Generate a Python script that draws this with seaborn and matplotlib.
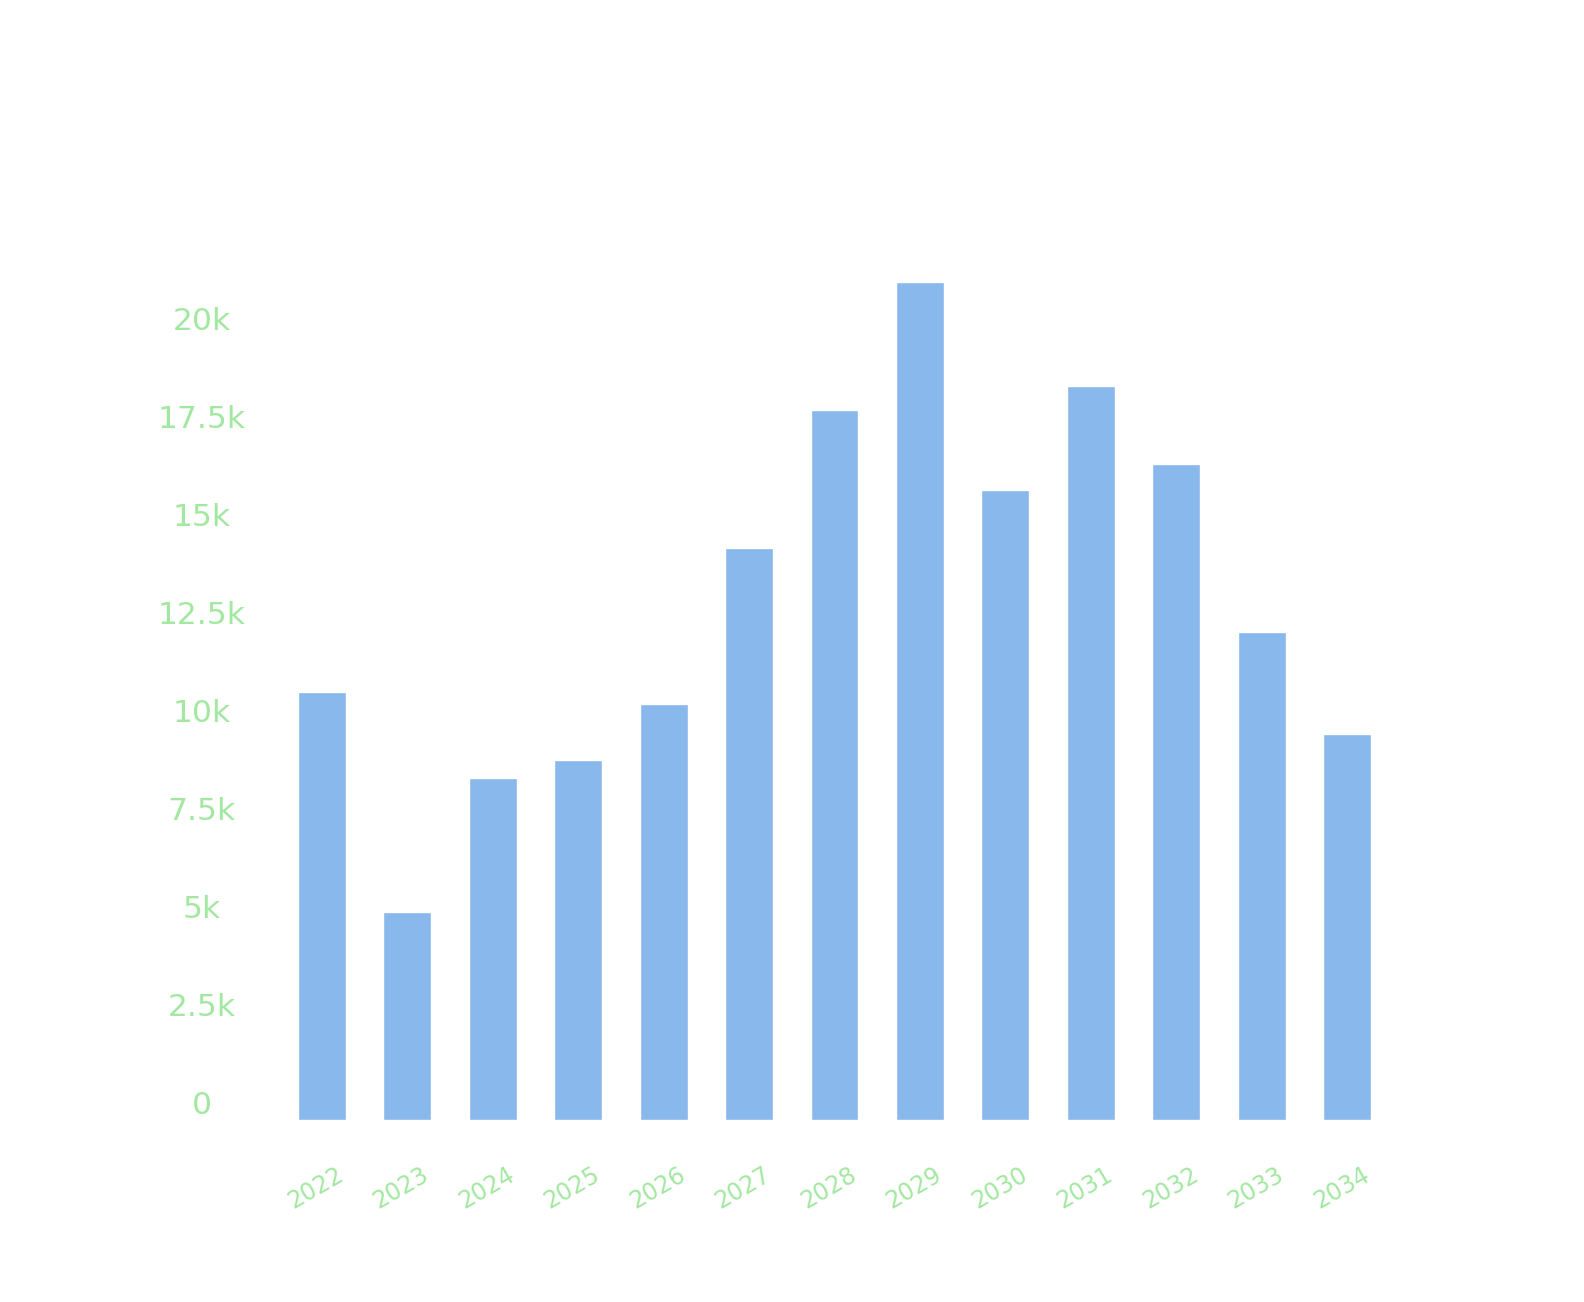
import matplotlib
matplotlib.use("Agg")
import matplotlib.pyplot as plt
import matplotlib.transforms as mtransforms
import seaborn as sns
import pandas as pd

years = ["2022", "2023", "2024", "2025", "2026", "2027", "2028",
         "2029", "2030", "2031", "2032", "2033", "2034"]
values = [10920, 5310, 8720, 9180, 10610, 14580, 18110,
          21380, 16070, 18720, 16730, 12450, 9850]
y_ticks = [0, 2500, 5000, 7500, 10000, 12500, 15000, 17500, 20000]
y_tick_labels = ["0", "2.5k", "5k", "7.5k", "10k", "12.5k", "15k", "17.5k", "20k"]

bar_color = "#89b9ec"
text_color = "#a3e8a0"

df = pd.DataFrame({"year": years, "value": values})

sns.set_theme(style="white")
plt.rcParams["font.family"] = ["DejaVu Sans"]

fig = plt.figure(figsize=(15.84, 13.02), dpi=100)
W, H = 1584, 1302
left, right, bottom_px, top_px = 279, 1390, 1120, 200
ax = fig.add_axes([left / W, (H - bottom_px) / H, (right - left) / W, (bottom_px - top_px) / H])

sns.barplot(data=df, x="year", y="value", color=bar_color, width=0.56,
            saturation=1, ax=ax)

ax.set_xlim(-0.5, len(years) - 0.5)
ax.set_ylim(0, (bottom_px - top_px) / 39.2 * 1000)
ax.set_xlabel("")
ax.set_ylabel("")
for s in ax.spines.values():
    s.set_visible(False)

ax.set_yticks(y_ticks)
ax.set_yticklabels(y_tick_labels)
ax.tick_params(axis="y", length=0, pad=(left - 202) * 72 / 100, labelsize=22.6, labelcolor=text_color)
ax.tick_params(axis="x", length=0, labelsize=17, labelcolor=text_color)

dy = mtransforms.ScaledTranslation(0, 18 / 100, fig.dpi_scale_trans)
for lab in ax.get_yticklabels():
    lab.set_horizontalalignment("center")
    lab.set_transform(lab.get_transform() + dy)

dxy = mtransforms.ScaledTranslation(20 / 100, -53 / 100, fig.dpi_scale_trans)
ax.tick_params(axis="x", pad=0)
for lab in ax.get_xticklabels():
    lab.set_rotation(30)
    lab.set_rotation_mode("anchor")
    lab.set_horizontalalignment("right")
    lab.set_verticalalignment("center")
    lab.set_transform(lab.get_transform() + dxy)

fig.savefig("out.png", dpi=100, facecolor="white")
